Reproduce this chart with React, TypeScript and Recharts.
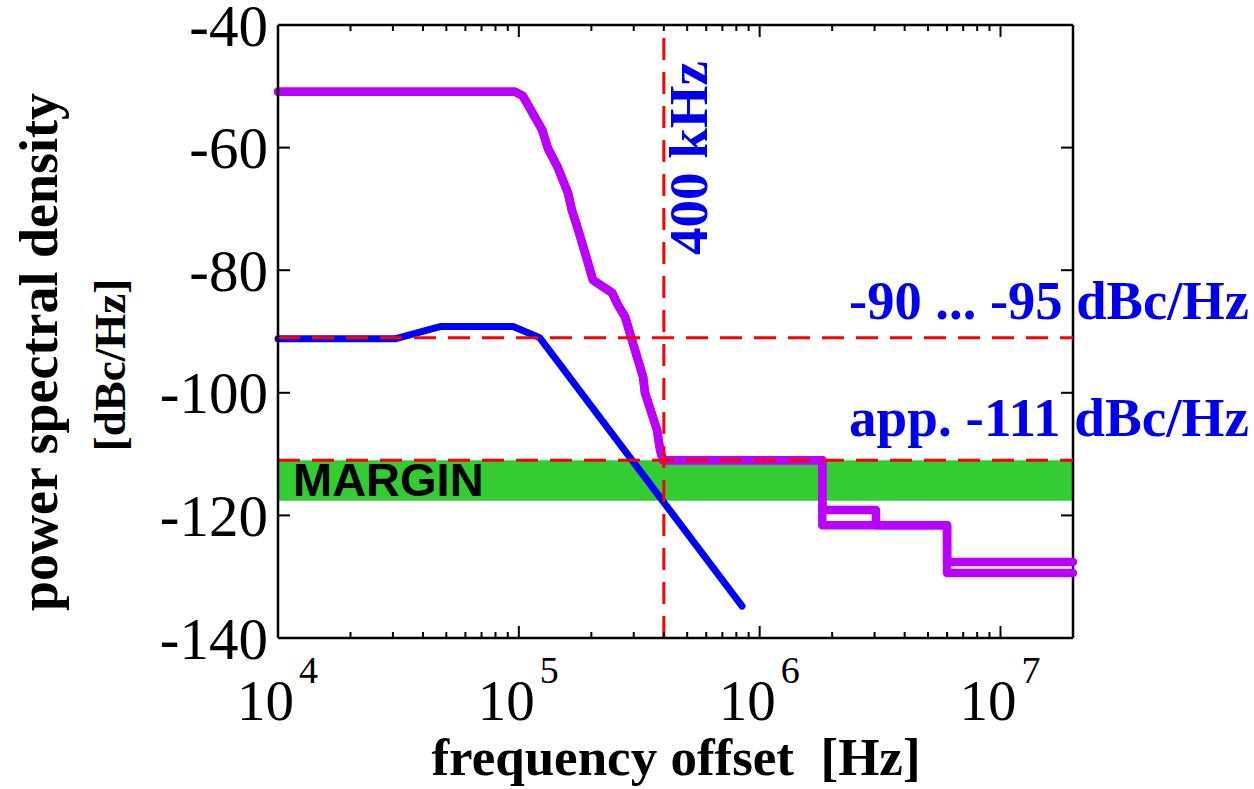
import React from 'react';
import { LineChart, Line, XAxis, YAxis, ReferenceLine, ReferenceArea, Label } from 'recharts';

const W = 1254;
const H = 789;
const MARGIN_TOP = 25;
const MARGIN_RIGHT = 181;
const Y_AXIS_W = 278;
const X_AXIS_H = 151;
const PLOT_LEFT = Y_AXIS_W;
const PLOT_TOP = MARGIN_TOP;
const PLOT_RIGHT = W - MARGIN_RIGHT;
const PLOT_BOTTOM = H - X_AXIS_H;

const SERIF = '"Liberation Serif", "Times New Roman", serif';
const SANS = '"Liberation Sans", Arial, sans-serif';

// ---- axes ----
const xDomain = [1e4, 2e7];
const majorFreqs = [1e4, 1e5, 1e6, 1e7];
const minorFreqs = [
  2e4, 3e4, 4e4, 5e4, 6e4, 7e4, 8e4, 9e4,
  2e5, 3e5, 4e5, 5e5, 6e5, 7e5, 8e5, 9e5,
  2e6, 3e6, 4e6, 5e6, 6e6, 7e6, 8e6, 9e6,
];
const xTicks = [...majorFreqs, ...minorFreqs].sort((a, b) => a - b);
const yDomain = [-140, -40];
const yTicks = [-140, -120, -100, -80, -60, -40];

// ---- blue curve ----
const blueFreq = [1e4, 3.06e4, 4.71e4, 9.46e4, 1.22e5, 8.45e5];
const blueVal = [-91.2, -91.2, -89.2, -89.2, -91.0, -134.8];

// ---- purple curve (common part) ----
const purpleFreq = [
  1e4, 9.64e4, 1.04e5, 1.25e5, 1.32e5, 1.45e5, 1.6e5, 1.66e5, 1.75e5, 1.92e5,
  2.03e5, 2.44e5, 2.58e5, 2.76e5, 3.1e5, 3.28e5, 3.34e5, 3.75e5, 3.86e5, 3.97e5, 1.82e6,
];
const purpleVal = [
  -50.9, -50.9, -51.6, -57.1, -60.1, -63.2, -67.4, -70.2, -73.0, -78.3,
  -81.6, -83.7, -85.7, -87.6, -94.2, -97.4, -100.0, -106.1, -109.3, -111.0, -111.0,
];
// upper branch of the step tail
const tailAFreq = [1.82e6, 3.04e6, 3.04e6, 6.0e6, 6.0e6, 2e7];
const tailAVal = [-119.1, -119.1, -121.6, -121.6, -127.6, -127.6];
// lower branch of the step tail
const tailBFreq = [1.82e6, 6.0e6, 6.0e6, 2e7];
const tailBVal = [-121.6, -121.6, -129.4, -129.4];

// ---- reference marks ----
const limitLevels = [-91, -111];
const cornerFreq = 4e5;
const marginBand = [-117.6, -111];

const toRows = (f: number[], v: number[]) => f.map((x, i) => ({ f: x, v: v[i] }));
const blueData = toRows(blueFreq, blueVal);
const purpleA = toRows([...purpleFreq, ...tailAFreq], [...purpleVal, ...tailAVal]);
const purpleB = toRows([...purpleFreq, ...tailBFreq], [...purpleVal, ...tailBVal]);

const PURPLE = '#bb00ff';
const BLUE = '#0000ff';
const RED = '#ff0000';
const GREEN = '#33cc33';
const TEXT_BLUE = '#0000ee';

const BottomTick = (props: any) => {
  const { x, payload } = props;
  const v = payload.value;
  const major = majorFreqs.includes(v);
  const len = major ? 12 : 6;
  const exp = Math.round(Math.log10(v));
  return (
    <g>
      <line x1={x} x2={x} y1={PLOT_BOTTOM} y2={PLOT_BOTTOM - len} stroke="#000" strokeWidth={2} />
      <line x1={x} x2={x} y1={PLOT_TOP} y2={PLOT_TOP + len} stroke="#000" strokeWidth={2} />
      {major && (
        <g fontFamily={SERIF} fill="#000">
          <text x={x + 16} y={PLOT_BOTTOM + 82} textAnchor="end" fontSize={57}>10</text>
          <text x={x + 21} y={PLOT_BOTTOM + 45} textAnchor="start" fontSize={38}>{exp}</text>
        </g>
      )}
    </g>
  );
};

const LeftTick = (props: any) => {
  const { y, payload } = props;
  return (
    <g>
      <line x1={PLOT_LEFT} x2={PLOT_LEFT + 12} y1={y} y2={y} stroke="#000" strokeWidth={2} />
      <line x1={PLOT_RIGHT} x2={PLOT_RIGHT - 12} y1={y} y2={y} stroke="#000" strokeWidth={2} />
      <text x={PLOT_LEFT - 10} y={y} dy="0.35em" textAnchor="end" fontFamily={SERIF} fontSize={59} fill="#000">
        {payload.value}
      </text>
    </g>
  );
};

const XTitle = () => (
  <text x={676} y={775} textAnchor="middle" fontFamily={SERIF} fontWeight="bold" fontSize={53} fill="#000">
    frequency offset{'\u00a0\u00a0'}[Hz]
  </text>
);

const YTitle = () => (
  <g fontFamily={SERIF} fontWeight="bold" fill="#000">
    <text x={57} y={352} transform="rotate(-90 57 352)" textAnchor="middle" fontSize={54}>
      power spectral density
    </text>
    <text x={125} y={365} transform="rotate(-90 125 365)" textAnchor="middle" fontSize={45}>
      [dBc/Hz]
    </text>
  </g>
);

const HighLabel = (props: any) => {
  const vb = props.viewBox || { x: PLOT_LEFT, y: 339, width: PLOT_RIGHT - PLOT_LEFT };
  return (
    <text x={W - 5} y={vb.y - 19} textAnchor="end" fontFamily={SERIF} fontWeight="bold" fontSize={55} textLength={400} lengthAdjust="spacingAndGlyphs" fill={TEXT_BLUE}>
      -90 ... -95 dBc/Hz
    </text>
  );
};

const LowLabel = (props: any) => {
  const vb = props.viewBox || { x: PLOT_LEFT, y: 461, width: PLOT_RIGHT - PLOT_LEFT };
  return (
    <text x={W - 5} y={vb.y - 24} textAnchor="end" fontFamily={SERIF} fontWeight="bold" fontSize={55} textLength={400} lengthAdjust="spacingAndGlyphs" fill={TEXT_BLUE}>
      app. -111 dBc/Hz
    </text>
  );
};

const CornerLabel = (props: any) => {
  const vb = props.viewBox || { x: 664, y: PLOT_TOP };
  const lx = vb.x + 43;
  const ly = 158;
  return (
    <text x={lx} y={ly} transform={`rotate(-90 ${lx} ${ly})`} textAnchor="middle" fontFamily={SERIF} fontWeight="bold" fontSize={55} fill={TEXT_BLUE}>
      400 kHz
    </text>
  );
};

const MarginLabel = (props: any) => {
  const vb = props.viewBox || { x: PLOT_LEFT, y: 461, height: 39 };
  return (
    <text x={vb.x + 15} y={vb.y + vb.height - 5} fontFamily={SANS} fontWeight="bold" fontSize={47} fill="#000">
      MARGIN
    </text>
  );
};

const axisLine = { stroke: '#000', strokeWidth: 2.5 };

export default function App() {
  return (
    <div style={{ position: 'absolute', left: 0, top: 0, width: W, height: H, background: '#fff' }}>
      <LineChart width={W} height={H} margin={{ top: MARGIN_TOP, right: MARGIN_RIGHT, bottom: 0, left: 0 }}>
        <XAxis
          xAxisId="b"
          dataKey="f"
          type="number"
          scale="log"
          domain={xDomain}
          ticks={xTicks}
          interval={0}
          height={X_AXIS_H}
          tickLine={false}
          axisLine={axisLine}
          tick={<BottomTick />}
        >
          <Label content={<XTitle />} />
        </XAxis>
        <YAxis
          yAxisId="l"
          type="number"
          domain={yDomain}
          ticks={yTicks}
          interval={0}
          width={Y_AXIS_W}
          tickLine={false}
          axisLine={axisLine}
          tick={<LeftTick />}
        >
          <Label content={<YTitle />} />
        </YAxis>
        <ReferenceArea
          xAxisId="b"
          yAxisId="l"
          x1={xDomain[0]}
          x2={xDomain[1]}
          y1={marginBand[0]}
          y2={marginBand[1]}
          fill={GREEN}
          fillOpacity={1}
          stroke="none"
          label={<MarginLabel />}
        />
        <ReferenceLine xAxisId="b" yAxisId="l" y={yDomain[1]} stroke="#000" strokeWidth={2.5} />
        <ReferenceLine xAxisId="b" yAxisId="l" x={xDomain[1]} stroke="#000" strokeWidth={2.5} />
        <Line
          xAxisId="b"
          yAxisId="l"
          data={blueData}
          dataKey="v"
          stroke={BLUE}
          strokeWidth={7}
          dot={false}
          strokeLinecap="round"
          strokeLinejoin="round"
          isAnimationActive={false}
        />
        <Line
          xAxisId="b"
          yAxisId="l"
          data={purpleA}
          dataKey="v"
          stroke={PURPLE}
          strokeWidth={8.5}
          dot={false}
          strokeLinecap="round"
          strokeLinejoin="round"
          isAnimationActive={false}
        />
        <Line
          xAxisId="b"
          yAxisId="l"
          data={purpleB}
          dataKey="v"
          stroke={PURPLE}
          strokeWidth={8.5}
          dot={false}
          strokeLinecap="round"
          strokeLinejoin="round"
          isAnimationActive={false}
        />
        <ReferenceLine xAxisId="b" yAxisId="l" y={limitLevels[0]} stroke={RED} strokeWidth={3} strokeDasharray="22 12" label={<HighLabel />} />
        <ReferenceLine xAxisId="b" yAxisId="l" y={limitLevels[1]} stroke={RED} strokeWidth={3} strokeDasharray="22 12" label={<LowLabel />} />
        <ReferenceLine xAxisId="b" yAxisId="l" x={cornerFreq} stroke={RED} strokeWidth={3} strokeDasharray="22 12" label={<CornerLabel />} />
      </LineChart>
    </div>
  );
}
